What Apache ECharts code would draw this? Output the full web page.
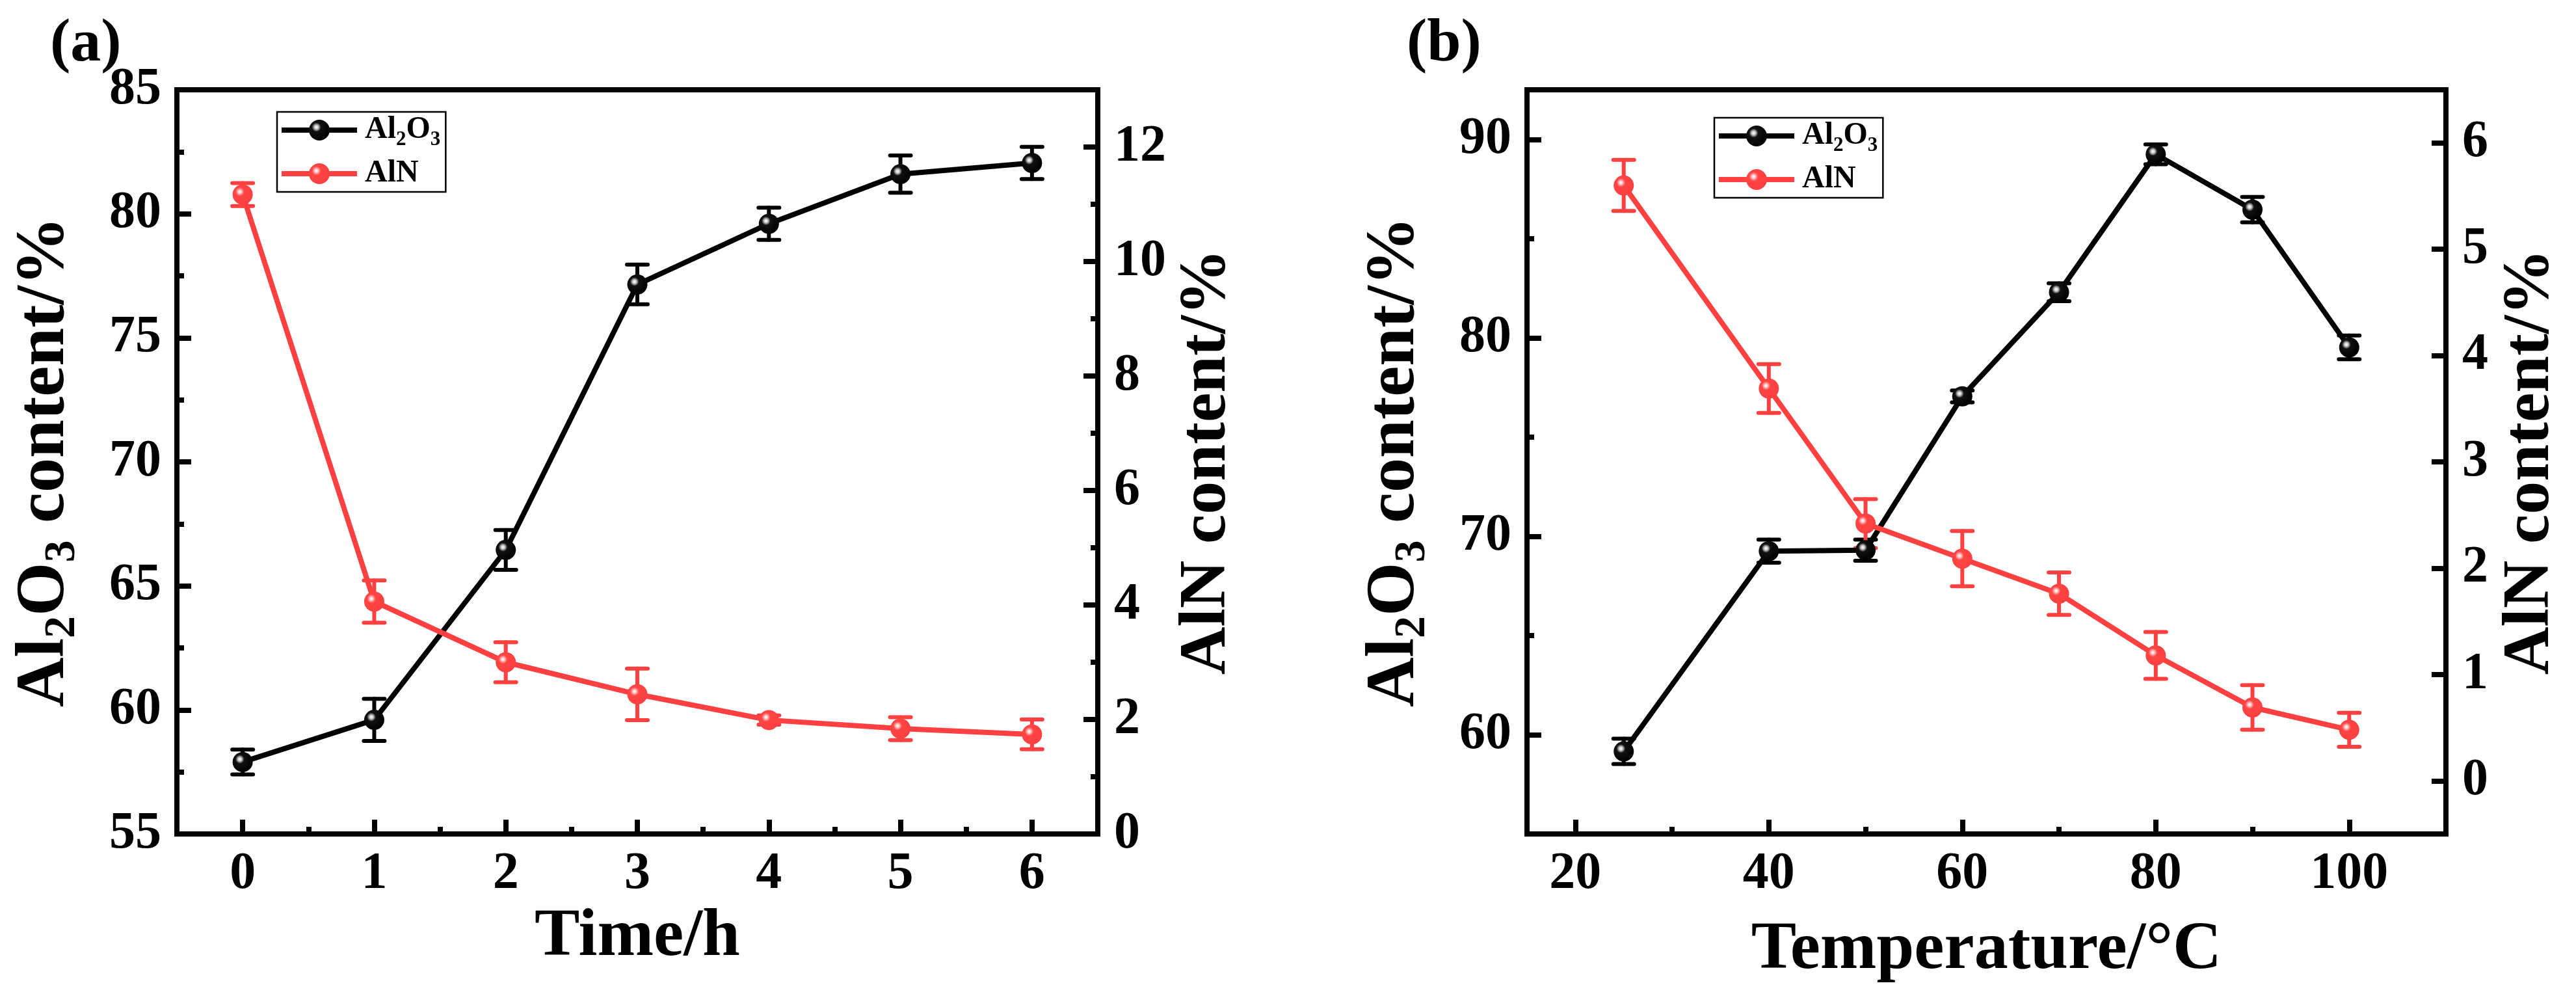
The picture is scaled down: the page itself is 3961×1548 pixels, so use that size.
<!DOCTYPE html>
<html>
<head>
<meta charset="utf-8">
<script src="https://cdn.jsdelivr.net/npm/echarts@6/dist/echarts.min.js"></script>
<style>
html,body{margin:0;padding:0;background:#fff;}
#c{width:3961px;height:1548px;}
</style>
</head>
<body>
<div id="c"></div>
<script>
// ---- data: panel (a) ----
const timeH = [0, 1, 2, 3, 4, 5, 6];
const al2o3Time = [57.9, 59.6, 66.45, 77.15, 79.6, 81.6, 82.05];
const al2o3TimeErr = [0.5, 0.85, 0.8, 0.8, 0.65, 0.75, 0.65];
const alnTime = [11.17, 4.06, 3.0, 2.44, 1.99, 1.84, 1.74];
const alnTimeErr = [0.2, 0.37, 0.35, 0.45, 0.08, 0.2, 0.26];
// ---- data: panel (b) ----
const tempC = [25, 40, 50, 60, 70, 80, 90, 100];
const al2o3Temp = [59.16, 69.25, 69.3, 77.05, 82.3, 89.25, 86.46, 79.52];
const al2o3TempErr = [0.64, 0.58, 0.53, 0.3, 0.45, 0.5, 0.64, 0.6];
const alnTemp = [5.6, 3.69, 2.42, 2.09, 1.76, 1.18, 0.69, 0.48];
const alnTempErr = [0.24, 0.23, 0.23, 0.26, 0.2, 0.22, 0.21, 0.16];
// ---- tick labels ----
const ticksTimeX = [0, 1, 2, 3, 4, 5, 6];
const minorTimeX = [0.5, 1.5, 2.5, 3.5, 4.5, 5.5];
const ticksAl2o3A = [55, 60, 65, 70, 75, 80, 85];
const minorAl2o3A = [57.5, 62.5, 67.5, 72.5, 77.5, 82.5];
const ticksAlnA = [0, 2, 4, 6, 8, 10, 12];
const minorAlnA = [1, 3, 5, 7, 9, 11];
const ticksTempX = [20, 40, 60, 80, 100];
const minorTempX = [30, 50, 70, 90];
const ticksAl2o3B = [60, 70, 80, 90];
const minorAl2o3B = [65, 75, 85];
const ticksAlnB = [0, 1, 2, 3, 4, 5, 6];

const FONT = '"Liberation Serif", "Times New Roman", serif';
const BLACK = '#000000';
const RED = '#ff4040';
const AXW = 8;
const LW = 8;

const blackBall = {type:'radial', x:0.36, y:0.36, r:0.64, colorStops:[
  {offset:0, color:'#ffffff'}, {offset:0.12, color:'#d8d8d8'}, {offset:0.22, color:'#8a8a8a'},
  {offset:0.34, color:'#111111'}, {offset:1, color:'#000000'}]};
const redBall = {type:'radial', x:0.36, y:0.36, r:0.64, colorStops:[
  {offset:0, color:'#ffffff'}, {offset:0.12, color:'#ffd0d0'}, {offset:0.22, color:'#ff8c8c'},
  {offset:0.34, color:'#ff4444'}, {offset:1, color:'#ff4040'}]};

function pairs(xs, ys){ return xs.map((x,i)=>[x, ys[i]]); }
function triples(xs, ys, es){ return xs.map((x,i)=>[x, ys[i], es[i]]); }

function errRender(color){
  return function(params, api){
    const x = api.value(0), y = api.value(1), e = api.value(2);
    const t = api.coord([x, y + e]);
    const b = api.coord([x, y - e]);
    const hw = 16;
    const st = {stroke: color, lineWidth: 6, lineCap: 'round'};
    return {type:'group', children:[
      {type:'line', shape:{x1:t[0], y1:t[1], x2:b[0], y2:b[1]}, style:st},
      {type:'line', shape:{x1:t[0]-hw, y1:t[1], x2:t[0]+hw, y2:t[1]}, style:st},
      {type:'line', shape:{x1:b[0]-hw, y1:b[1], x2:b[0]+hw, y2:b[1]}, style:st}
    ]};
  };
}

function mainAxis(o){
  return Object.assign({
    type:'value', splitLine:{show:false},
    axisLine:{show:true, onZero:false, lineStyle:{color:BLACK, width:AXW}},
    axisTick:{show:true, inside:true, length:22, lineStyle:{color:BLACK, width:AXW}, customValues:o.ticks},
    axisLabel:{show:true, customValues:o.ticks, color:BLACK, fontFamily:FONT, fontWeight:'bold', fontSize:80, margin:o.margin},
    nameTextStyle:{color:BLACK, fontFamily:FONT, fontWeight:'bold', fontSize:104}
  }, o.extra);
}
function minorAxis(o){
  return Object.assign({
    type:'value', splitLine:{show:false},
    axisLine:{show:false, onZero:false},
    axisTick:{show:true, inside:true, length:11, lineStyle:{color:BLACK, width:AXW}, customValues:o.ticks},
    axisLabel:{show:false}
  }, o.extra);
}

const subRich = {
  n:{fontFamily:FONT, fontWeight:'bold', fontSize:106, lineHeight:120, color:BLACK, verticalAlign:'middle'},
  s:{fontFamily:FONT, fontWeight:'bold', fontSize:68, lineHeight:50, color:BLACK, verticalAlign:'bottom'}
};
const legRich = {
  n:{fontFamily:FONT, fontWeight:'bold', fontSize:48, lineHeight:60, color:BLACK, verticalAlign:'middle'},
  s:{fontFamily:FONT, fontWeight:'bold', fontSize:31, lineHeight:26, color:BLACK, verticalAlign:'bottom'}
};
function legendFmt(name){ return name === 'Al2O3' ? '{n|Al}{s|2}{n|O}{s|3}' : '{n|AlN}'; }
function legendCfg(left, top){
  return {
    left:left, top:top, orient:'vertical', data:['Al2O3','AlN'],
    itemWidth:116, itemHeight:40, itemGap:13, padding:[4,8,4,3],
    borderColor:BLACK, borderWidth:2.5, backgroundColor:'#fff',
    formatter:legendFmt, selectedMode:false,
    lineStyle:{width:LW},
    textStyle:{padding:[0,0,0,7], rich:legRich}
  };
}

const H = 1548, W = 3961;
const option = {
  animation:false,
  backgroundColor:'#ffffff',
  textStyle:{fontFamily:FONT, fontWeight:'bold'},
  grid:[
    {left:272, right:W-1688, top:138, bottom:H-1282, show:true, borderColor:BLACK, borderWidth:AXW, backgroundColor:'transparent'},
    {left:2348, right:W-3761, top:138, bottom:H-1282, show:true, borderColor:BLACK, borderWidth:AXW, backgroundColor:'transparent'}
  ],
  xAxis:[
    mainAxis({ticks:ticksTimeX, margin:22, extra:{gridIndex:0, position:'bottom', min:-0.5, max:6.5,
      name:'Time/h', nameLocation:'middle', nameGap:94}}),
    minorAxis({ticks:minorTimeX, extra:{gridIndex:0, position:'bottom', min:-0.5, max:6.5}}),
    mainAxis({ticks:ticksTempX, margin:22, extra:{gridIndex:1, position:'bottom', min:15, max:110,
      name:'Temperature/°C', nameLocation:'middle', nameGap:127}}),
    minorAxis({ticks:minorTempX, extra:{gridIndex:1, position:'bottom', min:15, max:110}})
  ],
  yAxis:[
    mainAxis({ticks:ticksAl2o3A, margin:24, extra:{gridIndex:0, position:'left', min:55, max:85,
      name:'{n|Al}{s|2}{n|O}{s|3}{n| content/%}', nameLocation:'middle', nameRotate:90, nameGap:142,
      nameTextStyle:{rich:subRich}}}),
    minorAxis({ticks:minorAl2o3A, extra:{gridIndex:0, position:'left', min:55, max:85}}),
    mainAxis({ticks:ticksAlnA, margin:25, extra:{gridIndex:0, position:'right', min:0, max:13,
      name:'AlN content/%', nameLocation:'middle', nameRotate:90, nameGap:109,
      nameTextStyle:{color:BLACK, fontFamily:FONT, fontWeight:'bold', fontSize:102, lineHeight:120}}}),
    minorAxis({ticks:minorAlnA, extra:{gridIndex:0, position:'right', min:0, max:13}}),
    mainAxis({ticks:ticksAl2o3B, margin:24, extra:{gridIndex:1, position:'left', min:55, max:92.5,
      name:'{n|Al}{s|2}{n|O}{s|3}{n| content/%}', nameLocation:'middle', nameRotate:90, nameGap:142,
      nameTextStyle:{rich:subRich}}}),
    minorAxis({ticks:minorAl2o3B, extra:{gridIndex:1, position:'left', min:55, max:92.5}}),
    mainAxis({ticks:ticksAlnB, margin:25, extra:{gridIndex:1, position:'right', min:-0.5, max:6.5,
      name:'AlN content/%', nameLocation:'middle', nameRotate:90, nameGap:71,
      nameTextStyle:{color:BLACK, fontFamily:FONT, fontWeight:'bold', fontSize:102, lineHeight:120}}})
  ],
  legend:[ legendCfg(426, 172), legendCfg(2636, 181) ],
  graphic:[
    {type:'text', left:77, top:22, style:{text:'(a)', fill:BLACK, font:'bold 94px "Liberation Serif"'}},
    {type:'text', left:2163, top:22, style:{text:'(b)', fill:BLACK, font:'bold 94px "Liberation Serif"'}}
  ],
  series:[
    {type:'custom', name:'Al2O3 err a', xAxisIndex:0, yAxisIndex:0, z:2, renderItem:errRender(BLACK), data:triples(timeH, al2o3Time, al2o3TimeErr)},
    {type:'custom', name:'AlN err a', xAxisIndex:0, yAxisIndex:2, z:2, renderItem:errRender(RED), data:triples(timeH, alnTime, alnTimeErr)},
    {type:'line', name:'Al2O3', xAxisIndex:0, yAxisIndex:0, z:3, data:pairs(timeH, al2o3Time),
      symbol:'circle', symbolSize:31, showAllSymbol:true, lineStyle:{color:BLACK, width:LW}, itemStyle:{color:blackBall}},
    {type:'line', name:'AlN', xAxisIndex:0, yAxisIndex:2, z:3, data:pairs(timeH, alnTime),
      symbol:'circle', symbolSize:31, showAllSymbol:true, lineStyle:{color:RED, width:LW}, itemStyle:{color:redBall}},
    {type:'custom', name:'Al2O3 err b', xAxisIndex:2, yAxisIndex:4, z:2, renderItem:errRender(BLACK), data:triples(tempC, al2o3Temp, al2o3TempErr)},
    {type:'custom', name:'AlN err b', xAxisIndex:2, yAxisIndex:6, z:2, renderItem:errRender(RED), data:triples(tempC, alnTemp, alnTempErr)},
    {type:'line', name:'Al2O3', xAxisIndex:2, yAxisIndex:4, z:3, data:pairs(tempC, al2o3Temp),
      symbol:'circle', symbolSize:31, showAllSymbol:true, lineStyle:{color:BLACK, width:LW}, itemStyle:{color:blackBall}},
    {type:'line', name:'AlN', xAxisIndex:2, yAxisIndex:6, z:3, data:pairs(tempC, alnTemp),
      symbol:'circle', symbolSize:31, showAllSymbol:true, lineStyle:{color:RED, width:LW}, itemStyle:{color:redBall}}
  ]
};
const chart = echarts.init(document.getElementById('c'), null, {renderer:'canvas', width:W, height:H});
chart.setOption(option);
</script>
</body>
</html>
